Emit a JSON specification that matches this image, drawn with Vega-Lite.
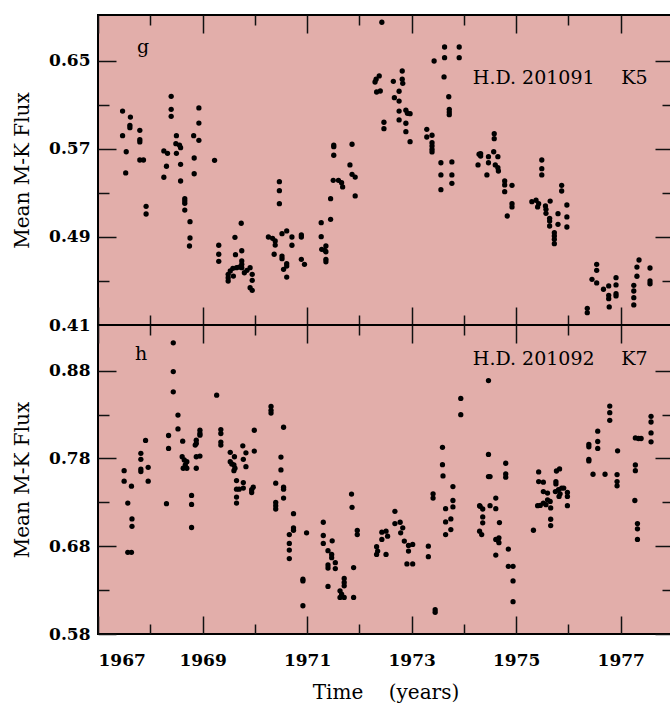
{
"$schema": "https://vega.github.io/schema/vega-lite/v6.json",
"background": "white",
"padding": {"left": 11, "top": 13, "right": 0, "bottom": 0},
"spacing": 0,
"bounds": "flush",
"config": {
  "view": {"stroke": "black", "strokeWidth": 2, "fill": "#e2aeaa"},
  "concat": {"spacing": 0},
  "axis": {"domain": false, "grid": false, "labelFont": "DejaVu Serif", "labelFontWeight": "bold", "labelFontSize": 17, "labelColor": "black", "titleFont": "DejaVu Serif", "titleFontWeight": "normal", "titleFontSize": 20, "titleColor": "black", "tickColor": "#111", "tickWidth": 1.5},
  "text": {"font": "DejaVu Serif", "fontSize": 19, "color": "black"}
},
"datasets": {
"top": [
{"year":1967.47,"flux":0.6045},{"year":1967.62,"flux":0.599},{"year":1967.61,"flux":0.5915},{"year":1967.61,"flux":0.5894},{"year":1967.80,"flux":0.587},{"year":1967.47,"flux":0.5821},{"year":1967.80,"flux":0.5785},{"year":1967.80,"flux":0.5764},{"year":1967.54,"flux":0.5675},{"year":1967.80,"flux":0.560},{"year":1967.87,"flux":0.560},
{"year":1968.40,"flux":0.6179},{"year":1968.40,"flux":0.6061},{"year":1968.40,"flux":0.5997},{"year":1968.50,"flux":0.5821},{"year":1968.49,"flux":0.5748},{"year":1968.56,"flux":0.5734},{"year":1968.58,"flux":0.5712},{"year":1968.26,"flux":0.5682},{"year":1968.33,"flux":0.5661},{"year":1968.50,"flux":0.5661},{"year":1968.31,"flux":0.5543},{"year":1968.58,"flux":0.5561},
{"year":1968.93,"flux":0.6073},{"year":1968.93,"flux":0.5936},{"year":1968.83,"flux":0.5821},{"year":1968.93,"flux":0.5779},{"year":1968.84,"flux":0.5618},{"year":1969.23,"flux":0.5597},{"year":1967.53,"flux":0.5482},{"year":1968.26,"flux":0.5443},{"year":1968.58,"flux":0.5409},{"year":1968.84,"flux":0.5475},
{"year":1967.92,"flux":0.5179},{"year":1967.92,"flux":0.5109},{"year":1968.66,"flux":0.5248},{"year":1968.66,"flux":0.5227},{"year":1968.66,"flux":0.5206},{"year":1968.66,"flux":0.5145},{"year":1968.76,"flux":0.5039},{"year":1968.76,"flux":0.4891},{"year":1968.75,"flux":0.4818},
{"year":1969.31,"flux":0.4825},{"year":1969.31,"flux":0.4743},{"year":1969.31,"flux":0.4679},{"year":1969.62,"flux":0.4897},{"year":1969.74,"flux":0.5025},{"year":1969.75,"flux":0.4775},{"year":1969.63,"flux":0.4739},{"year":1969.75,"flux":0.4682},{"year":1969.75,"flux":0.4652},
{"year":1969.49,"flux":0.4561},{"year":1969.49,"flux":0.453},{"year":1969.49,"flux":0.450},{"year":1969.53,"flux":0.4591},{"year":1969.58,"flux":0.4615},{"year":1969.59,"flux":0.4545},{"year":1969.65,"flux":0.4621},{"year":1969.70,"flux":0.4627},{"year":1969.75,"flux":0.4621},{"year":1969.80,"flux":0.4575},{"year":1969.85,"flux":0.4597},{"year":1969.91,"flux":0.4621},{"year":1969.95,"flux":0.4561},{"year":1969.95,"flux":0.4506},{"year":1969.91,"flux":0.4439},{"year":1969.95,"flux":0.4415},
{"year":1970.47,"flux":0.5403},{"year":1970.47,"flux":0.5321},{"year":1970.47,"flux":0.5203},{"year":1970.26,"flux":0.490},{"year":1970.34,"flux":0.4888},{"year":1970.39,"flux":0.4864},{"year":1970.39,"flux":0.4827},{"year":1970.37,"flux":0.4743},{"year":1970.52,"flux":0.493},{"year":1970.61,"flux":0.4955},{"year":1970.52,"flux":0.4727},{"year":1970.52,"flux":0.4703},{"year":1970.55,"flux":0.4606},{"year":1970.61,"flux":0.4636},{"year":1970.61,"flux":0.4536},{"year":1970.71,"flux":0.490},{"year":1970.71,"flux":0.4825},{"year":1970.89,"flux":0.4918},{"year":1970.89,"flux":0.490},{"year":1970.61,"flux":0.4657},{"year":1970.89,"flux":0.4697},{"year":1970.95,"flux":0.4652},
{"year":1971.27,"flux":0.503},{"year":1971.45,"flux":0.5061},{"year":1971.27,"flux":0.4903},{"year":1971.28,"flux":0.4788},{"year":1971.34,"flux":0.4779},{"year":1971.36,"flux":0.4818},{"year":1971.36,"flux":0.4766},{"year":1971.36,"flux":0.4697},{"year":1971.36,"flux":0.4675},{"year":1971.45,"flux":0.5248},{"year":1971.50,"flux":0.5415},{"year":1971.60,"flux":0.5415},{"year":1971.66,"flux":0.5394},{"year":1971.68,"flux":0.5355},{"year":1971.82,"flux":0.5555},{"year":1971.86,"flux":0.547},{"year":1971.92,"flux":0.5445},{"year":1971.92,"flux":0.5273},
{"year":1973.56,"flux":0.5575},{"year":1973.56,"flux":0.5464},{"year":1973.56,"flux":0.533},{"year":1973.77,"flux":0.5582},{"year":1973.77,"flux":0.5464},{"year":1973.77,"flux":0.5388},{"year":1974.27,"flux":0.5555},
{"year":1972.43,"flux":0.6852},{"year":1972.38,"flux":0.6364},{"year":1972.32,"flux":0.6334},{"year":1972.30,"flux":0.6309},{"year":1972.33,"flux":0.6218},{"year":1972.40,"flux":0.6227},{"year":1972.65,"flux":0.6315},{"year":1972.82,"flux":0.6409},{"year":1972.82,"flux":0.6334},{"year":1972.83,"flux":0.6297},{"year":1972.76,"flux":0.6225},{"year":1972.67,"flux":0.6166},{"year":1972.76,"flux":0.6136},{"year":1972.76,"flux":0.6045},{"year":1972.47,"flux":0.5943},{"year":1972.47,"flux":0.5885},{"year":1972.76,"flux":0.5964},{"year":1972.89,"flux":0.6052},{"year":1972.92,"flux":0.6025},{"year":1972.97,"flux":0.6021},{"year":1972.89,"flux":0.5934},{"year":1972.89,"flux":0.5857},{"year":1972.97,"flux":0.5766},
{"year":1971.51,"flux":0.5736},{"year":1971.51,"flux":0.5721},{"year":1971.51,"flux":0.5643},{"year":1971.86,"flux":0.5743},
{"year":1973.43,"flux":0.650},{"year":1973.63,"flux":0.6627},{"year":1973.63,"flux":0.653},{"year":1973.91,"flux":0.6627},{"year":1973.91,"flux":0.653},{"year":1973.62,"flux":0.6355},{"year":1973.71,"flux":0.6175},{"year":1973.72,"flux":0.6061},{"year":1973.72,"flux":0.6036},{"year":1973.72,"flux":0.6012},{"year":1973.29,"flux":0.5879},{"year":1973.29,"flux":0.5809},{"year":1973.39,"flux":0.5825},{"year":1973.39,"flux":0.5757},{"year":1973.39,"flux":0.5727},{"year":1973.39,"flux":0.5697},{"year":1973.39,"flux":0.5673},
{"year":1974.29,"flux":0.5652},{"year":1974.58,"flux":0.5839},{"year":1974.58,"flux":0.5794},{"year":1974.32,"flux":0.5657},{"year":1974.32,"flux":0.5636},{"year":1974.47,"flux":0.563},{"year":1974.57,"flux":0.5675},{"year":1974.65,"flux":0.563},{"year":1974.47,"flux":0.5575},{"year":1974.60,"flux":0.5555},{"year":1974.65,"flux":0.553},{"year":1975.49,"flux":0.560},{"year":1975.49,"flux":0.5521},{"year":1974.66,"flux":0.550},{"year":1974.44,"flux":0.5464},{"year":1974.78,"flux":0.5409},{"year":1974.78,"flux":0.5373},{"year":1974.78,"flux":0.5312},{"year":1974.92,"flux":0.537},{"year":1974.92,"flux":0.5203},{"year":1974.92,"flux":0.5173},{"year":1974.83,"flux":0.5091},
{"year":1975.49,"flux":0.5464},{"year":1975.30,"flux":0.5221},{"year":1975.38,"flux":0.5234},{"year":1975.43,"flux":0.5203},{"year":1975.41,"flux":0.5173},{"year":1975.56,"flux":0.5182},{"year":1975.57,"flux":0.5152},{"year":1975.57,"flux":0.5115},{"year":1975.65,"flux":0.5227},{"year":1975.64,"flux":0.507},{"year":1975.64,"flux":0.5045},{"year":1975.64,"flux":0.500},{"year":1975.73,"flux":0.4939},{"year":1975.73,"flux":0.4909},{"year":1975.73,"flux":0.4879},{"year":1975.73,"flux":0.4839},{"year":1975.80,"flux":0.5112},{"year":1975.80,"flux":0.5015},{"year":1975.87,"flux":0.537},{"year":1975.87,"flux":0.5318},{"year":1975.97,"flux":0.5191},{"year":1975.97,"flux":0.5082},{"year":1975.97,"flux":0.4991},
{"year":1976.36,"flux":0.4252},{"year":1976.36,"flux":0.4212},{"year":1976.54,"flux":0.4652},{"year":1976.54,"flux":0.4597},{"year":1976.45,"flux":0.4515},{"year":1976.54,"flux":0.4482},{"year":1976.67,"flux":0.4425},{"year":1976.77,"flux":0.4455},{"year":1976.77,"flux":0.437},{"year":1976.77,"flux":0.4339},{"year":1976.78,"flux":0.4264},{"year":1976.91,"flux":0.453},{"year":1976.91,"flux":0.4464},{"year":1976.91,"flux":0.4385},{"year":1976.91,"flux":0.4364},
{"year":1977.25,"flux":0.4461},{"year":1977.25,"flux":0.4409},{"year":1977.25,"flux":0.4348},{"year":1977.25,"flux":0.4282},{"year":1977.31,"flux":0.4627},{"year":1977.35,"flux":0.4691},{"year":1977.31,"flux":0.4543},{"year":1977.56,"flux":0.4618},{"year":1977.56,"flux":0.450},{"year":1977.56,"flux":0.4475}
],
"bottom": [
{"year":1968.44,"flux":0.9117},{"year":1968.44,"flux":0.8789},{"year":1968.44,"flux":0.8559},{"year":1968.53,"flux":0.8294},{"year":1969.27,"flux":0.8521},{"year":1968.53,"flux":0.8136},{"year":1968.35,"flux":0.8061},{"year":1968.35,"flux":0.7914},{"year":1967.91,"flux":0.8005},{"year":1967.82,"flux":0.7858},{"year":1967.82,"flux":0.779},{"year":1967.82,"flux":0.7677},{"year":1967.82,"flux":0.765},{"year":1967.96,"flux":0.7699},{"year":1967.50,"flux":0.7661},
{"year":1968.62,"flux":0.7997},{"year":1968.95,"flux":0.8121},{"year":1968.95,"flux":0.8084},{"year":1968.95,"flux":0.8065},{"year":1968.88,"flux":0.8008},{"year":1968.88,"flux":0.7971},{"year":1968.86,"flux":0.7952},{"year":1968.88,"flux":0.7819},{"year":1968.95,"flux":0.7827},{"year":1968.61,"flux":0.7819},{"year":1968.65,"flux":0.7782},{"year":1968.70,"flux":0.7763},{"year":1968.67,"flux":0.7725},{"year":1968.63,"flux":0.7688},{"year":1968.70,"flux":0.7688},{"year":1968.88,"flux":0.7688},
{"year":1969.35,"flux":0.8129},{"year":1969.35,"flux":0.8084},{"year":1969.35,"flux":0.7986},{"year":1969.35,"flux":0.7952},{"year":1969.53,"flux":0.7869},{"year":1969.61,"flux":0.7819},{"year":1969.53,"flux":0.7763},{"year":1969.56,"flux":0.7737},{"year":1969.60,"flux":0.7725},{"year":1969.62,"flux":0.7688},{"year":1969.60,"flux":0.7661},{"year":1969.77,"flux":0.7944},{"year":1969.83,"flux":0.7864},{"year":1969.78,"flux":0.779},{"year":1969.83,"flux":0.7706},{"year":1969.99,"flux":0.8121},{"year":1969.99,"flux":0.7884},
{"year":1970.31,"flux":0.8393},{"year":1970.31,"flux":0.8348},{"year":1970.31,"flux":0.8317},{"year":1970.55,"flux":0.8155},{"year":1970.50,"flux":0.7816},{"year":1970.50,"flux":0.7669},
{"year":1967.50,"flux":0.7541},{"year":1967.64,"flux":0.7484},{"year":1967.96,"flux":0.7541},{"year":1967.57,"flux":0.7292},{"year":1967.65,"flux":0.7111},{"year":1967.65,"flux":0.7027},{"year":1967.57,"flux":0.673},{"year":1967.64,"flux":0.673},{"year":1968.31,"flux":0.7284},{"year":1968.79,"flux":0.7378},{"year":1968.79,"flux":0.7276},{"year":1968.79,"flux":0.7013},
{"year":1969.65,"flux":0.7548},{"year":1969.65,"flux":0.745},{"year":1969.65,"flux":0.736},{"year":1969.65,"flux":0.7292},{"year":1969.78,"flux":0.7525},{"year":1969.78,"flux":0.7462},{"year":1969.70,"flux":0.745},{"year":1969.94,"flux":0.7443},{"year":1969.97,"flux":0.7473},{"year":1969.94,"flux":0.7412},
{"year":1970.40,"flux":0.7518},{"year":1970.55,"flux":0.7473},{"year":1970.55,"flux":0.745},{"year":1970.55,"flux":0.7349},{"year":1970.40,"flux":0.7299},{"year":1970.40,"flux":0.7262},{"year":1970.40,"flux":0.7224},{"year":1970.66,"flux":0.6933},{"year":1970.66,"flux":0.6832},{"year":1970.66,"flux":0.6756},{"year":1970.66,"flux":0.6659},{"year":1970.74,"flux":0.7171},{"year":1970.74,"flux":0.7009},{"year":1970.74,"flux":0.6982},{"year":1970.99,"flux":0.6953},{"year":1970.92,"flux":0.6424},{"year":1970.92,"flux":0.6405},{"year":1970.92,"flux":0.6122},
{"year":1971.31,"flux":0.7073},{"year":1971.31,"flux":0.6922},{"year":1971.31,"flux":0.6832},{"year":1971.48,"flux":0.6862},{"year":1971.40,"flux":0.6749},{"year":1971.47,"flux":0.6707},{"year":1971.47,"flux":0.667},{"year":1971.54,"flux":0.6613},{"year":1971.54,"flux":0.6545},{"year":1971.40,"flux":0.6586},{"year":1971.40,"flux":0.6552},{"year":1971.40,"flux":0.6342},{"year":1971.71,"flux":0.6432},{"year":1971.71,"flux":0.6387},{"year":1971.71,"flux":0.6349},{"year":1971.63,"flux":0.6292},{"year":1971.63,"flux":0.6217},{"year":1971.71,"flux":0.6217},{"year":1971.66,"flux":0.6255},{"year":1971.89,"flux":0.6217},{"year":1971.85,"flux":0.7394},{"year":1971.86,"flux":0.7242},{"year":1971.96,"flux":0.6979},{"year":1971.96,"flux":0.6933},{"year":1971.89,"flux":0.6557},
{"year":1972.68,"flux":0.7197},{"year":1972.68,"flux":0.7058},{"year":1972.78,"flux":0.7073},{"year":1972.83,"flux":0.7009},{"year":1972.79,"flux":0.6953},{"year":1972.43,"flux":0.696},{"year":1972.51,"flux":0.6971},{"year":1972.54,"flux":0.6914},{"year":1972.43,"flux":0.6877},{"year":1972.33,"flux":0.6794},{"year":1972.35,"flux":0.6745},{"year":1972.33,"flux":0.6707},{"year":1972.51,"flux":0.6707},{"year":1972.86,"flux":0.6858},{"year":1972.94,"flux":0.6809},{"year":1973.02,"flux":0.682},{"year":1972.94,"flux":0.6745},{"year":1972.91,"flux":0.6598},{"year":1973.02,"flux":0.6598},
{"year":1973.32,"flux":0.6801},{"year":1973.32,"flux":0.6681},{"year":1973.45,"flux":0.6077},{"year":1973.45,"flux":0.6048},{"year":1973.41,"flux":0.7397},{"year":1973.41,"flux":0.7349},{"year":1973.60,"flux":0.7601},{"year":1973.79,"flux":0.748},{"year":1973.79,"flux":0.7321},{"year":1973.79,"flux":0.7247},{"year":1973.65,"flux":0.7228},{"year":1973.65,"flux":0.7077},{"year":1973.75,"flux":0.7111},{"year":1973.75,"flux":0.699},{"year":1973.65,"flux":0.6933},{"year":1974.30,"flux":0.7262},{"year":1974.30,"flux":0.6971},{"year":1973.94,"flux":0.8483},{"year":1973.94,"flux":0.8299},{"year":1973.59,"flux":0.7926},{"year":1973.59,"flux":0.7729},
{"year":1974.47,"flux":0.8687},{"year":1974.47,"flux":0.7846},{"year":1974.47,"flux":0.7593},{"year":1974.50,"flux":0.7593},{"year":1974.80,"flux":0.7745},{"year":1974.80,"flux":0.7624},{"year":1974.80,"flux":0.7586},{"year":1975.43,"flux":0.7646},{"year":1975.77,"flux":0.7657},{"year":1975.83,"flux":0.768},
{"year":1976.39,"flux":0.7959},{"year":1976.39,"flux":0.7932},{"year":1976.39,"flux":0.779},{"year":1976.39,"flux":0.7771},{"year":1976.56,"flux":0.811},{"year":1976.56,"flux":0.7993},{"year":1976.56,"flux":0.7914},{"year":1976.79,"flux":0.8396},{"year":1976.79,"flux":0.8321},{"year":1976.79,"flux":0.8234},{"year":1976.94,"flux":0.7887},{"year":1976.47,"flux":0.762},{"year":1976.70,"flux":0.762},{"year":1976.93,"flux":0.7616},{"year":1977.28,"flux":0.8034},{"year":1977.34,"flux":0.8027},{"year":1977.39,"flux":0.8027},{"year":1977.28,"flux":0.7725},{"year":1977.28,"flux":0.7661},{"year":1977.58,"flux":0.828},{"year":1977.58,"flux":0.8215},{"year":1977.58,"flux":0.8091},{"year":1977.58,"flux":0.7989},
{"year":1974.61,"flux":0.7349},{"year":1974.31,"flux":0.7254},{"year":1974.36,"flux":0.7224},{"year":1974.50,"flux":0.7262},{"year":1974.61,"flux":0.7228},{"year":1974.36,"flux":0.7134},{"year":1974.36,"flux":0.7066},{"year":1974.68,"flux":0.7069},{"year":1974.34,"flux":0.6933},{"year":1974.61,"flux":0.6877},{"year":1974.67,"flux":0.6896},{"year":1974.67,"flux":0.684},{"year":1974.65,"flux":0.6868},{"year":1974.85,"flux":0.6767},{"year":1974.61,"flux":0.6699},{"year":1974.85,"flux":0.6571},{"year":1974.94,"flux":0.6571},{"year":1974.94,"flux":0.6405},{"year":1974.94,"flux":0.6168},
{"year":1975.43,"flux":0.7536},{"year":1975.52,"flux":0.753},{"year":1975.76,"flux":0.7536},{"year":1975.76,"flux":0.751},{"year":1975.52,"flux":0.7423},{"year":1975.60,"flux":0.7405},{"year":1975.60,"flux":0.7329},{"year":1975.65,"flux":0.731},{"year":1975.52,"flux":0.7292},{"year":1975.46,"flux":0.7265},{"year":1975.41,"flux":0.7262},{"year":1975.57,"flux":0.7273},{"year":1975.66,"flux":0.7236},{"year":1975.75,"flux":0.7423},{"year":1975.81,"flux":0.7443},{"year":1975.87,"flux":0.7462},{"year":1975.84,"flux":0.7397},{"year":1975.82,"flux":0.7367},{"year":1975.91,"flux":0.7462},{"year":1975.98,"flux":0.7412},{"year":1975.98,"flux":0.7367},{"year":1975.98,"flux":0.7262},{"year":1975.66,"flux":0.7107},{"year":1975.66,"flux":0.7035},{"year":1975.33,"flux":0.6982},
{"year":1976.93,"flux":0.7536},{"year":1976.93,"flux":0.7488},{"year":1977.27,"flux":0.7321},{"year":1977.32,"flux":0.7058},{"year":1977.32,"flux":0.6998},{"year":1977.32,"flux":0.6877}
]
},
"vconcat": [
{
  "width": 575, "height": 310,
  "resolve": {"axis": {"x": "independent", "y": "independent"}},
  "layer": [
    {"data": {"name": "top"},
     "mark": {"type": "point", "filled": true, "size": 28, "color": "black", "opacity": 1},
     "encoding": {
       "x": {"field": "year", "type": "quantitative", "scale": {"domain": [1967, 1978], "nice": false, "zero": false},
             "axis": {"orient": "bottom", "values": [1967,1969,1971,1973,1975,1977], "tickSize": -18, "labels": false, "title": null}},
       "y": {"field": "flux", "type": "quantitative", "scale": {"domain": [0.41, 0.6918], "nice": false, "zero": false},
             "axis": {"orient": "left", "values": [0.41,0.49,0.57,0.65], "format": ".2f", "tickSize": -18, "labelPadding": 26, "title": "Mean M-K Flux", "titlePadding": 16}}
     }},
    {"data": {"values": [{}]},
     "mark": {"type": "text", "text": "g", "align": "left", "baseline": "alphabetic"},
     "encoding": {
       "x": {"datum": 1967.746, "type": "quantitative", "axis": {"orient": "bottom", "values": [1968,1970,1972,1974,1976], "tickSize": -10, "labels": false, "title": null}},
       "y": {"datum": 0.6575, "type": "quantitative", "axis": {"orient": "left", "values": [0.45,0.53,0.61], "tickSize": -11, "labels": false, "title": null}}
     }},
    {"data": {"values": [{}]},
     "mark": {"type": "text", "text": "H.D. 201091", "align": "left", "baseline": "alphabetic"},
     "encoding": {
       "x": {"datum": 1974.171, "type": "quantitative", "axis": {"orient": "top", "values": [1967,1969,1971,1973,1975,1977], "tickSize": -18, "labels": false, "title": null}},
       "y": {"datum": 0.6294, "type": "quantitative", "axis": {"orient": "right", "values": [0.41,0.49,0.57,0.65], "tickSize": -18, "labels": false, "title": null}}
     }},
    {"data": {"values": [{}]},
     "mark": {"type": "text", "text": "K5", "align": "left", "baseline": "alphabetic"},
     "encoding": {
       "x": {"datum": 1977.01, "type": "quantitative", "axis": {"orient": "top", "values": [1968,1970,1972,1974,1976], "tickSize": -10, "labels": false, "title": null}},
       "y": {"datum": 0.6294, "type": "quantitative", "axis": {"orient": "right", "values": [0.45,0.53,0.61], "tickSize": -11, "labels": false, "title": null}}
     }}
  ]
},
{
  "width": 575, "height": 309,
  "resolve": {"axis": {"x": "independent", "y": "independent"}},
  "layer": [
    {"data": {"name": "bottom"},
     "mark": {"type": "point", "filled": true, "size": 28, "color": "black", "opacity": 1},
     "encoding": {
       "x": {"field": "year", "type": "quantitative", "scale": {"domain": [1967, 1978], "nice": false, "zero": false},
             "axis": {"orient": "bottom", "values": [1967,1969,1971,1973,1975,1977], "format": "d", "tickSize": -18, "labelPadding": 36, "title": "Time\u00a0\u00a0\u00a0\u00a0(years)", "titlePadding": 14}},
       "y": {"field": "flux", "type": "quantitative", "scale": {"domain": [0.58, 0.932], "nice": false, "zero": false},
             "axis": {"orient": "left", "values": [0.58,0.68,0.78,0.88], "format": ".2f", "tickSize": -18, "labelPadding": 26, "title": "Mean M-K Flux", "titlePadding": 16}}
     }},
    {"data": {"values": [{}]},
     "mark": {"type": "text", "text": "h", "align": "left", "baseline": "alphabetic"},
     "encoding": {
       "x": {"datum": 1967.708, "type": "quantitative", "axis": {"orient": "bottom", "values": [1968,1970,1972,1974,1976], "tickSize": -10, "labels": false, "title": null}},
       "y": {"datum": 0.8921, "type": "quantitative", "axis": {"orient": "left", "values": [0.63,0.73,0.83], "tickSize": -11, "labels": false, "title": null}}
     }},
    {"data": {"values": [{}]},
     "mark": {"type": "text", "text": "H.D. 201092", "align": "left", "baseline": "alphabetic"},
     "encoding": {
       "x": {"datum": 1974.171, "type": "quantitative", "axis": {"orient": "top", "values": [1967,1969,1971,1973,1975,1977], "tickSize": -18, "labels": false, "title": null}},
       "y": {"datum": 0.8868, "type": "quantitative", "axis": {"orient": "right", "values": [0.58,0.68,0.78,0.88], "tickSize": -18, "labels": false, "title": null}}
     }},
    {"data": {"values": [{}]},
     "mark": {"type": "text", "text": "K7", "align": "left", "baseline": "alphabetic"},
     "encoding": {
       "x": {"datum": 1977.01, "type": "quantitative", "axis": {"orient": "top", "values": [1968,1970,1972,1974,1976], "tickSize": -10, "labels": false, "title": null}},
       "y": {"datum": 0.8868, "type": "quantitative", "axis": {"orient": "right", "values": [0.63,0.73,0.83], "tickSize": -11, "labels": false, "title": null}}
     }}
  ]
}
]
}
